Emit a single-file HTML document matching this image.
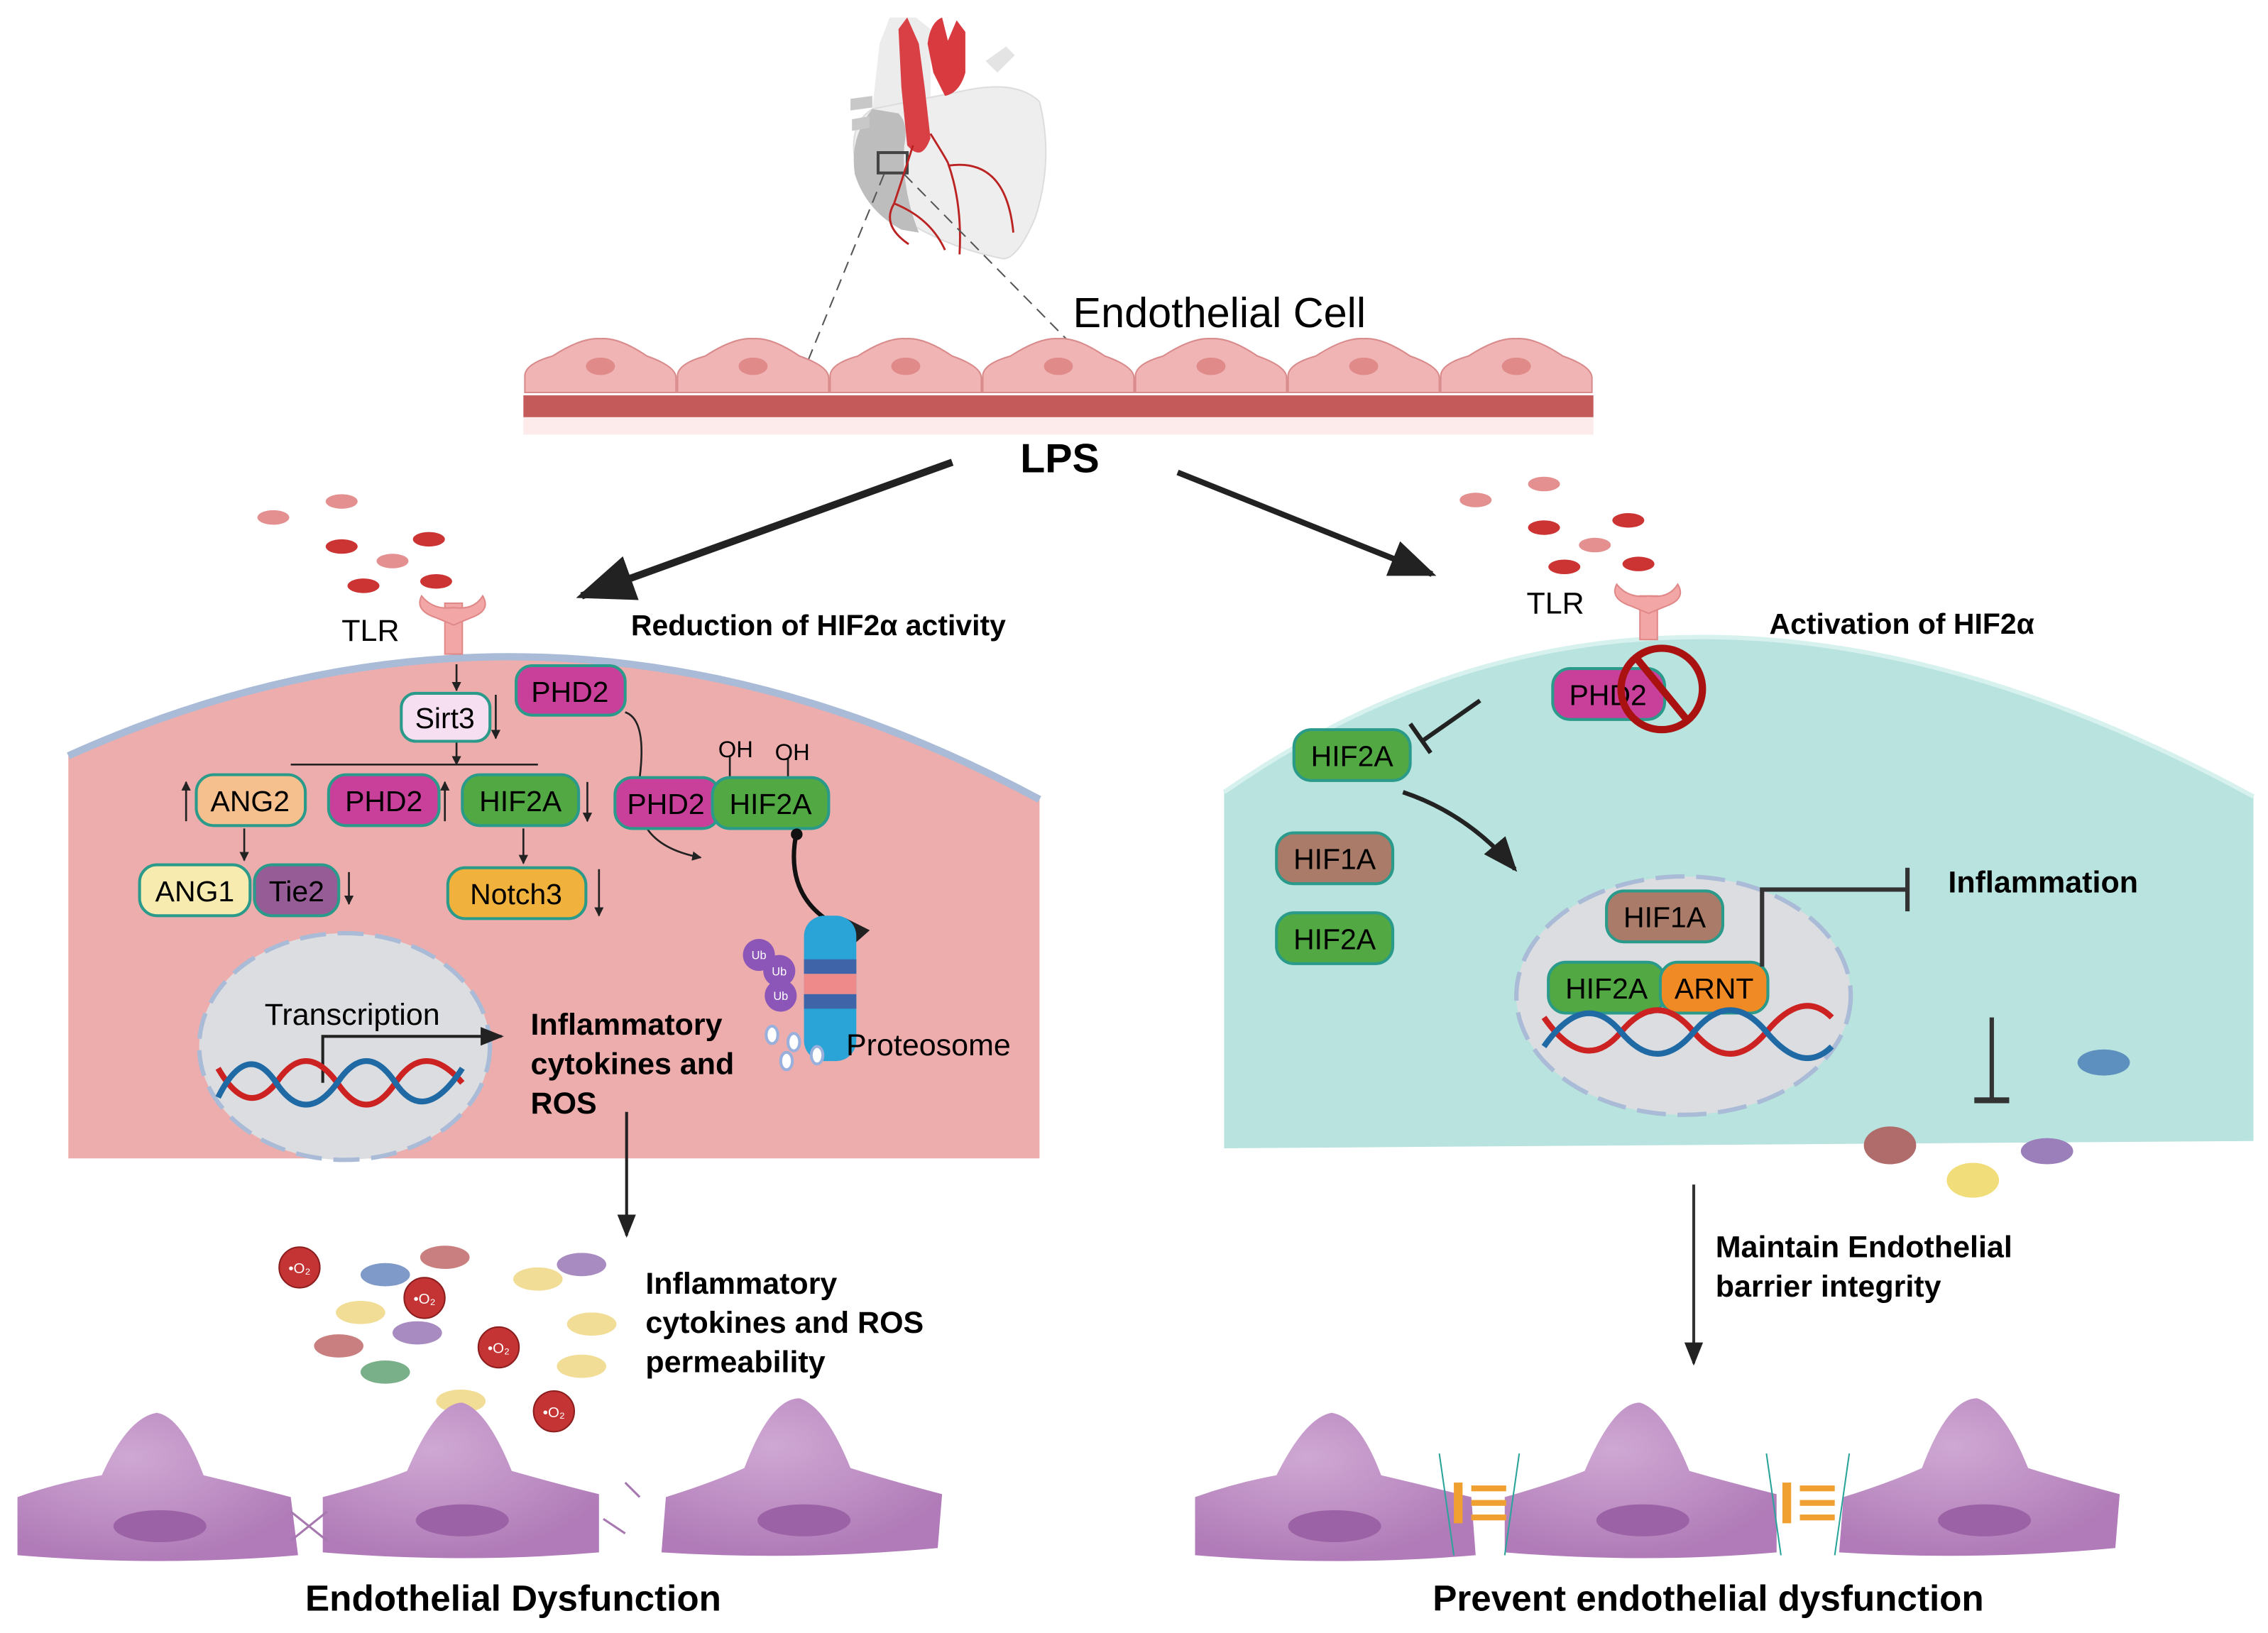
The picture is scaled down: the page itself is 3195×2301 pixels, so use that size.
<!DOCTYPE html>
<html><head><meta charset="utf-8"><style>
html,body{margin:0;padding:0;background:#fff}
svg{display:block}
text{font-family:"Liberation Sans",sans-serif}
.b{font-weight:bold}
</style></head><body>
<svg width="3195" height="2301" viewBox="0 0 1560 1123.5" xmlns="http://www.w3.org/2000/svg">
<defs>
<marker id="ah" viewBox="0 0 10 10" refX="9" refY="5" markerWidth="5" markerHeight="5" orient="auto"><path d="M0,0L10,5L0,10z" fill="#222"/></marker>
<marker id="as" viewBox="0 0 10 10" refX="9" refY="5" markerWidth="8" markerHeight="8" orient="auto"><path d="M0,1L10,5L0,9z" fill="#222"/></marker>
<radialGradient id="cg" cx="0.4" cy="0.3" r="0.7"><stop offset="0" stop-color="#cfa8d3"/><stop offset="1" stop-color="#b07bb8"/></radialGradient>
</defs>

<!-- heart -->
<path d="M600,75 L640,75 L640,20 L630,12 L612,12 L605,30 Z" fill="#ececec"/>
<path d="M665,62 Q700,55 715,70 Q725,110 712,150 Q700,178 690,178 Q650,170 620,150 Q595,135 588,110 Q584,85 600,75 Z" fill="#eeeeee" stroke="#ddd"/>
<path d="M600,75 Q584,95 588,120 Q596,145 620,158 L632,160 Q620,130 622,100 Q625,85 618,78 Z" fill="#bdbdbd"/>
<path d="M678,42 L692,32 L698,38 L686,50 Z" fill="#e4e4e4"/>
<path d="M585,68 L600,66 L600,74 L585,76Z M586,82 L598,80 L598,88 L586,90Z" fill="#c8c8c8"/>
<path d="M618,20 L624,12 L632,30 L636,60 L640,95 Q634,112 624,100 L620,60 Z" fill="#d94046"/>
<path d="M638,30 Q640,15 648,12 L652,28 L658,14 L664,22 L664,50 Q660,64 650,66 L642,50 Z" fill="#d83a40"/>
<rect x="604" y="105" width="20" height="14" fill="none" stroke="#444" stroke-width="2"/>
<g stroke="#b22" stroke-width="1.4" fill="none">
<path d="M628,100 Q620,125 615,140 Q606,155 625,168"/><path d="M615,140 Q640,150 650,172"/>
<path d="M652,112 Q662,140 660,175"/><path d="M652,114 Q692,108 697,160"/><path d="M640,92 Q650,108 652,112"/>
</g>
<line x1="608" y1="120" x2="555" y2="250" stroke="#555" stroke-dasharray="8,5"/>
<line x1="622" y1="120" x2="748" y2="248" stroke="#555" stroke-dasharray="8,5"/>
<text x="738" y="225" font-size="29">Endothelial Cell</text>

<!-- endothelial layer -->
<rect x="360" y="287" width="736" height="12" fill="#fdeaea"/>
<rect x="360" y="272" width="736" height="15" fill="#c45a5a"/>
<g fill="#f0b4b4" stroke="#d98a8a" stroke-width="1">
<path d="M361,270 L361,258 Q362,250 380,245 Q400,232 413,233 Q426,232 445,245 Q465,252 465,260 L465,270 Z"/>
<path d="M466,270 L466,258 Q467,250 485,245 Q505,232 518,233 Q531,232 550,245 Q570,252 570,260 L570,270 Z"/>
<path d="M571,270 L571,258 Q572,250 590,245 Q610,232 623,233 Q636,232 655,245 Q675,252 675,260 L675,270 Z"/>
<path d="M676,270 L676,258 Q677,250 695,245 Q715,232 728,233 Q741,232 760,245 Q780,252 780,260 L780,270 Z"/>
<path d="M781,270 L781,258 Q782,250 800,245 Q820,232 833,233 Q846,232 865,245 Q885,252 885,260 L885,270 Z"/>
<path d="M886,270 L886,258 Q887,250 905,245 Q925,232 938,233 Q951,232 970,245 Q990,252 990,260 L990,270 Z"/>
<path d="M991,270 L991,258 Q992,250 1010,245 Q1030,232 1043,233 Q1056,232 1075,245 Q1095,252 1095,260 L1095,270 Z"/>
</g>
<g fill="#e08a8a"><ellipse cx="413" cy="252" rx="10" ry="6"/><ellipse cx="518" cy="252" rx="10" ry="6"/><ellipse cx="623" cy="252" rx="10" ry="6"/><ellipse cx="728" cy="252" rx="10" ry="6"/><ellipse cx="833" cy="252" rx="10" ry="6"/><ellipse cx="938" cy="252" rx="10" ry="6"/><ellipse cx="1043" cy="252" rx="10" ry="6"/></g>

<text x="729" y="325" font-size="28" class="b" text-anchor="middle">LPS</text>
<line x1="655" y1="318" x2="400" y2="410" stroke="#222" stroke-width="5" marker-end="url(#as)"/>
<line x1="810" y1="325" x2="985" y2="395" stroke="#222" stroke-width="4" marker-end="url(#as)"/>

<!-- LEFT CELL -->
<path d="M47,797 L47,520 Q380,370 715,550 L715,797 Z" fill="#eeadad"/>
<path d="M47,520 Q380,370 715,550" fill="none" stroke="#a9bbd6" stroke-width="5"/>
<g fill="#c33"><ellipse cx="235" cy="376" rx="11" ry="5"/><ellipse cx="295" cy="371" rx="11" ry="5"/><ellipse cx="250" cy="403" rx="11" ry="5"/><ellipse cx="300" cy="400" rx="11" ry="5"/></g>
<g fill="#e59090"><ellipse cx="188" cy="356" rx="11" ry="5"/><ellipse cx="235" cy="345" rx="11" ry="5"/><ellipse cx="270" cy="386" rx="11" ry="5"/></g>
<text x="235" y="441" font-size="21">TLR</text>
<g fill="#f2a6a6" stroke="#e08888"><rect x="306" y="415" width="12" height="35"/><path d="M290,410 Q285,420 300,425 L312,430 L324,425 Q338,420 332,410 Q326,420 312,418 Q298,420 290,410Z"/></g>
<text x="434" y="437" font-size="20" class="b">Reduction of  HIF2α activity</text>

<g stroke="#222" stroke-width="1.3" fill="none">
<line x1="314" y1="457" x2="314" y2="475" marker-end="url(#ah)"/>
<line x1="314" y1="510" x2="314" y2="526" marker-end="url(#ah)"/>
<line x1="200" y1="526" x2="370" y2="526"/>
<line x1="341" y1="478" x2="341" y2="508" marker-end="url(#ah)"/>
<line x1="128" y1="565" x2="128" y2="538" marker-end="url(#ah)"/>
<line x1="306" y1="565" x2="306" y2="538" marker-end="url(#ah)"/>
<line x1="404" y1="538" x2="404" y2="565" marker-end="url(#ah)"/>
<line x1="168" y1="570" x2="168" y2="592" marker-end="url(#ah)"/>
<line x1="360" y1="570" x2="360" y2="594" marker-end="url(#ah)"/>
<line x1="240" y1="600" x2="240" y2="622" marker-end="url(#ah)"/>
<line x1="412" y1="598" x2="412" y2="630" marker-end="url(#ah)"/>
<path d="M430,490 Q445,495 440,535"/>
<path d="M445,570 Q455,585 482,590" marker-end="url(#ah)"/>
<line x1="502" y1="520" x2="502" y2="535"/><line x1="542" y1="522" x2="542" y2="535"/>
</g>
<g stroke="#2a9a8a" stroke-width="2" font-size="20">
<rect x="276" y="477" width="61" height="33" rx="10" fill="#f5dff0"/>
<rect x="355" y="458" width="75" height="34" rx="11" fill="#c8409a"/>
<rect x="135" y="533" width="75" height="35" rx="12" fill="#f6c08e"/>
<rect x="226" y="533" width="76" height="35" rx="12" fill="#c8409a"/>
<rect x="318" y="533" width="80" height="35" rx="12" fill="#52a843"/>
<rect x="96" y="595" width="76" height="35" rx="12" fill="#f7ebb0"/>
<rect x="175" y="595" width="58" height="35" rx="12" fill="#955c96"/>
<rect x="308" y="597" width="95" height="35" rx="12" fill="#f0b23c"/>
<rect x="423" y="535" width="72" height="35" rx="12" fill="#c8409a"/>
<rect x="490" y="535" width="80" height="35" rx="12" fill="#52a843"/>
</g>
<g font-size="20" text-anchor="middle">
<text x="306" y="501">Sirt3</text><text x="392" y="483">PHD2</text>
<text x="172" y="558">ANG2</text><text x="264" y="558">PHD2</text><text x="358" y="558">HIF2A</text>
<text x="134" y="620">ANG1</text><text x="204" y="620">Tie2</text><text x="355" y="622">Notch3</text>
<text x="458" y="560">PHD2</text><text x="530" y="560">HIF2A</text>
</g>
<text x="494" y="521" font-size="16">OH</text><text x="533" y="523" font-size="16">OH</text>
<path d="M548,572 Q540,610 565,630 Q585,645 580,655" fill="none" stroke="#111" stroke-width="3" marker-end="url(#as)"/>
<circle cx="548" cy="574" r="4" fill="#111"/>
<g>
<rect x="553" y="630" width="36" height="100" rx="14" fill="#2aa3d6"/>
<rect x="553" y="660" width="36" height="10" fill="#3f64a8"/><rect x="553" y="670" width="36" height="14" fill="#ef8a8a"/><rect x="553" y="684" width="36" height="10" fill="#3f64a8"/>
<circle cx="522" cy="657" r="11" fill="#8b56b8"/><circle cx="536" cy="668" r="11" fill="#8b56b8"/><circle cx="537" cy="685" r="11" fill="#8b56b8"/>
<g font-size="8" fill="#fff" text-anchor="middle"><text x="522" y="660">Ub</text><text x="536" y="671">Ub</text><text x="537" y="688">Ub</text></g>
<g fill="#fff" stroke="#9ab0dc" stroke-width="2"><ellipse cx="531" cy="712" rx="4" ry="6"/><ellipse cx="546" cy="717" rx="4" ry="6"/><ellipse cx="541" cy="730" rx="4" ry="6"/><ellipse cx="562" cy="726" rx="4" ry="6"/></g>
</g>
<text x="582" y="726" font-size="21">Proteosome</text>
<ellipse cx="237" cy="720" rx="100" ry="78" fill="#dcdde0" stroke="#a9bbd6" stroke-width="3" stroke-dasharray="18,8"/>
<text x="182" y="705" font-size="21">Transcription</text>
<path d="M222,745 L222,713 L345,713" fill="none" stroke="#222" stroke-width="2" marker-end="url(#as)"/>
<path d="M150,735 Q170,770 190,745 Q210,715 232,745 Q252,775 272,745 Q292,715 318,745" fill="none" stroke="#c22" stroke-width="4"/>
<path d="M150,755 Q170,715 190,745 Q210,775 232,745 Q252,715 272,745 Q292,775 318,735" fill="none" stroke="#1f6aa5" stroke-width="4"/>
<g font-size="21" class="b"><text x="365" y="712">Inflammatory</text><text x="365" y="739">cytokines and</text><text x="365" y="766">ROS</text></g>
<line x1="431" y1="765" x2="431" y2="850" stroke="#222" stroke-width="2" marker-end="url(#as)"/>
<g>
<ellipse cx="265" cy="877" rx="17" ry="8" fill="#7f9ac9"/><ellipse cx="306" cy="865" rx="17" ry="8" fill="#c97f7f"/><ellipse cx="400" cy="870" rx="17" ry="8" fill="#a88bc1"/>
<ellipse cx="370" cy="880" rx="17" ry="8" fill="#f1dd96"/><ellipse cx="248" cy="903" rx="17" ry="8" fill="#f1dd96"/><ellipse cx="287" cy="917" rx="17" ry="8" fill="#a88bc1"/>
<ellipse cx="407" cy="911" rx="17" ry="8" fill="#f1dd96"/><ellipse cx="233" cy="926" rx="17" ry="8" fill="#c97f7f"/><ellipse cx="400" cy="940" rx="17" ry="8" fill="#f1dd96"/>
<ellipse cx="265" cy="944" rx="17" ry="8" fill="#79b08a"/><ellipse cx="317" cy="964" rx="17" ry="8" fill="#f1dd96"/>
<g fill="#c53434" stroke="#8b1d1d"><circle cx="206" cy="872" r="14"/><circle cx="292" cy="893" r="14"/><circle cx="343" cy="927" r="14"/><circle cx="381" cy="971" r="14"/></g>
<g font-size="10" fill="#fff" text-anchor="middle"><text x="206" y="876">•O₂</text><text x="292" y="897">•O₂</text><text x="343" y="931">•O₂</text><text x="381" y="975">•O₂</text></g>
</g>
<g font-size="21" class="b"><text x="444" y="890">Inflammatory</text><text x="444" y="917">cytokines and ROS</text><text x="444" y="944">permeability</text></g>
<g fill="url(#cg)">
<path d="M12,1070 L12,1030 Q40,1020 70,1015 Q88,975 108,972 Q125,975 140,1015 Q170,1022 200,1030 L205,1070 Q110,1078 12,1070Z"/>
<path d="M222,1068 L222,1030 Q260,1020 280,1012 Q300,965 318,965 Q335,970 352,1012 Q380,1020 412,1028 L412,1068 Q320,1076 222,1068Z"/>
<path d="M455,1068 L458,1030 Q490,1020 512,1010 Q530,962 550,962 Q568,968 585,1010 Q610,1018 648,1028 L645,1065 Q550,1074 455,1068Z"/>
</g>
<g fill="#9c62a6"><ellipse cx="110" cy="1050" rx="32" ry="11"/><ellipse cx="318" cy="1046" rx="32" ry="11"/><ellipse cx="553" cy="1046" rx="32" ry="11"/></g>
<path d="M200,1040 L225,1060 M200,1060 L225,1040 M415,1045 L430,1055 M430,1020 L440,1030" stroke="#a778b0" stroke-width="1.5"/>
<text x="353" y="1108" font-size="25" class="b" text-anchor="middle">Endothelial Dysfunction</text>

<!-- RIGHT CELL -->
<path d="M842,790 L842,545 Q1150,330 1550,548 L1550,785 Z" fill="#b8e3de"/>
<path d="M842,545 Q1150,330 1550,548" fill="none" stroke="#d6f1ee" stroke-width="3"/>
<g fill="#c33"><ellipse cx="1062" cy="363" rx="11" ry="5"/><ellipse cx="1120" cy="358" rx="11" ry="5"/><ellipse cx="1076" cy="390" rx="11" ry="5"/><ellipse cx="1127" cy="388" rx="11" ry="5"/></g>
<g fill="#e59090"><ellipse cx="1015" cy="344" rx="11" ry="5"/><ellipse cx="1062" cy="333" rx="11" ry="5"/><ellipse cx="1097" cy="375" rx="11" ry="5"/></g>
<text x="1050" y="422" font-size="21">TLR</text>
<g fill="#f2a6a6" stroke="#e08888"><rect x="1128" y="410" width="12" height="30"/><path d="M1112,402 Q1107,412 1122,417 L1134,422 L1146,417 Q1160,412 1154,402 Q1148,412 1134,410 Q1120,412 1112,402Z"/></g>
<text x="1217" y="436" font-size="20" class="b">Activation of HIF2α</text>
<rect x="1068" y="460" width="77" height="35" rx="12" fill="#c8409a" stroke="#2a9a8a" stroke-width="2"/>
<text x="1106" y="485" font-size="20" text-anchor="middle">PHD2</text>
<circle cx="1143" cy="474" r="28" fill="none" stroke="#a11" stroke-width="5"/>
<line x1="1125" y1="452" x2="1161" y2="496" stroke="#a11" stroke-width="5"/>
<g stroke="#222" stroke-width="3"><line x1="1018" y1="482" x2="978" y2="510"/><line x1="970" y1="498" x2="984" y2="518"/></g>
<g stroke="#2a9a8a" stroke-width="2">
<rect x="890" y="502" width="80" height="35" rx="12" fill="#52a843"/>
<rect x="878" y="573" width="80" height="35" rx="12" fill="#a97b68"/>
<rect x="878" y="628" width="80" height="35" rx="12" fill="#52a843"/>
</g>
<g font-size="20" text-anchor="middle"><text x="930" y="527">HIF2A</text><text x="918" y="598">HIF1A</text><text x="918" y="653">HIF2A</text></g>
<path d="M965,545 Q1010,560 1042,598" fill="none" stroke="#222" stroke-width="3" marker-end="url(#as)"/>
<ellipse cx="1158" cy="685" rx="115" ry="82" fill="#dcdde0" stroke="#a9bbd6" stroke-width="3" stroke-dasharray="20,8"/>
<g stroke="#2a9a8a" stroke-width="2">
<rect x="1105" y="613" width="80" height="35" rx="12" fill="#a97b68"/>
<rect x="1065" y="662" width="80" height="35" rx="12" fill="#52a843"/>
<rect x="1142" y="662" width="74" height="35" rx="12" fill="#f08a24"/>
</g>
<g font-size="20" text-anchor="middle"><text x="1145" y="638">HIF1A</text><text x="1105" y="687">HIF2A</text><text x="1179" y="687">ARNT</text></g>
<path d="M1062,700 Q1090,740 1115,710 Q1140,680 1165,710 Q1190,740 1215,710 Q1240,680 1260,700" fill="none" stroke="#c22" stroke-width="4"/>
<path d="M1062,720 Q1090,680 1115,710 Q1140,740 1165,710 Q1190,680 1215,710 Q1240,740 1260,720" fill="none" stroke="#1f6aa5" stroke-width="4"/>
<path d="M1212,665 L1212,612 L1312,612" fill="none" stroke="#333" stroke-width="3"/>
<line x1="1312" y1="597" x2="1312" y2="627" stroke="#333" stroke-width="3"/>
<text x="1340" y="614" font-size="21" class="b">Inflammation</text>
<line x1="1370" y1="700" x2="1370" y2="757" stroke="#333" stroke-width="3"/>
<line x1="1358" y1="757" x2="1382" y2="757" stroke="#333" stroke-width="4"/>
<ellipse cx="1447" cy="731" rx="18" ry="9" fill="#5d8fbf"/>
<ellipse cx="1300" cy="788" rx="18" ry="13" fill="#b06b6b"/>
<ellipse cx="1408" cy="792" rx="18" ry="9" fill="#9a7fbb"/>
<ellipse cx="1357" cy="812" rx="18" ry="12" fill="#f1dd7a"/>
<line x1="1165" y1="815" x2="1165" y2="938" stroke="#333" stroke-width="2" marker-end="url(#as)"/>
<g font-size="21" class="b"><text x="1180" y="865">Maintain Endothelial</text><text x="1180" y="892">barrier integrity</text></g>
<g fill="url(#cg)">
<path d="M822,1070 L822,1030 Q850,1020 878,1015 Q898,975 916,972 Q935,975 950,1015 Q980,1022 1012,1030 L1015,1070 Q920,1078 822,1070Z"/>
<path d="M1035,1068 L1035,1030 Q1070,1020 1090,1012 Q1110,965 1128,965 Q1145,970 1162,1012 Q1190,1020 1222,1028 L1222,1068 Q1130,1076 1035,1068Z"/>
<path d="M1265,1068 L1268,1030 Q1300,1020 1322,1010 Q1340,962 1360,962 Q1378,968 1395,1010 Q1420,1018 1458,1028 L1455,1065 Q1360,1074 1265,1068Z"/>
</g>
<g fill="#9c62a6"><ellipse cx="918" cy="1050" rx="32" ry="11"/><ellipse cx="1130" cy="1046" rx="32" ry="11"/><ellipse cx="1365" cy="1046" rx="32" ry="11"/></g>
<g stroke="#2aa39a" stroke-width="1"><line x1="990" y1="1000" x2="1000" y2="1070"/><line x1="1045" y1="1000" x2="1035" y2="1070"/><line x1="1215" y1="1000" x2="1225" y2="1070"/><line x1="1272" y1="1000" x2="1262" y2="1070"/></g>
<g fill="#f0a030"><rect x="1000" y="1020" width="6" height="28"/><rect x="1012" y="1022" width="24" height="4"/><rect x="1012" y="1032" width="24" height="4"/><rect x="1012" y="1042" width="24" height="4"/>
<rect x="1226" y="1020" width="6" height="28"/><rect x="1238" y="1022" width="24" height="4"/><rect x="1238" y="1032" width="24" height="4"/><rect x="1238" y="1042" width="24" height="4"/></g>
<text x="1175" y="1108" font-size="25" class="b" text-anchor="middle">Prevent endothelial dysfunction</text>
</svg>
</body></html>
